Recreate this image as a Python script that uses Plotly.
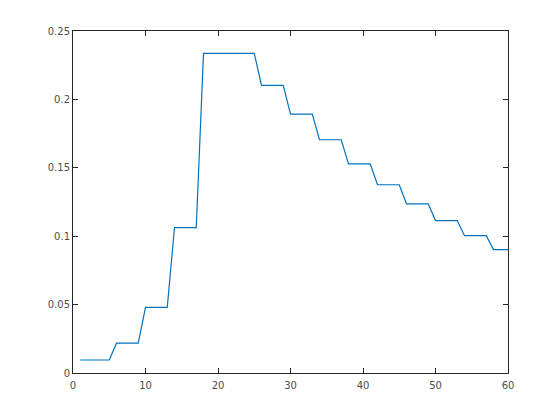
import plotly.graph_objects as go

x_vals = list(range(1, 61))
# values per x (each level held for a run of x)
y_vals = ([0.0095] * 5 + [0.0218] * 4 + [0.048] * 4 + [0.1063] * 4 + [0.2336] * 8 +
          [0.2103] * 4 + [0.1892] * 4 + [0.1705] * 4 + [0.1528] * 4 + [0.1376] * 4 +
          [0.1237] * 4 + [0.1114] * 4 + [0.1004] * 4 + [0.0902] * 3)

x_ticks = [0, 10, 20, 30, 40, 50, 60]
y_ticks = [0, 0.05, 0.1, 0.15, 0.2, 0.25]
y_tick_text = ["0", "0.05", "0.1", "0.15", "0.2", "0.25"]

fig = go.Figure()
fig.add_trace(go.Scatter(x=x_vals, y=y_vals, mode="lines",
                         line=dict(color="#0072BD", width=1.2)))

axis_common = dict(showline=True, linecolor="#262626", linewidth=1, mirror="ticks",
                   ticks="inside", ticklen=5, tickcolor="#262626", tickwidth=1,
                   showgrid=False, zeroline=False,
                   tickfont=dict(family="DejaVu Sans", size=10, color="#4d4d4d"))

fig.update_layout(
    width=552, height=412,
    margin=dict(l=65, r=52, t=23, b=47),
    paper_bgcolor="white", plot_bgcolor="white",
    showlegend=False,
    xaxis=dict(range=[0, 60], tickvals=x_ticks, ticklabelstandoff=3, **axis_common),
    yaxis=dict(range=[0, 0.25], tickvals=y_ticks, ticktext=y_tick_text, **axis_common),
)

fig.write_html("out.html")
